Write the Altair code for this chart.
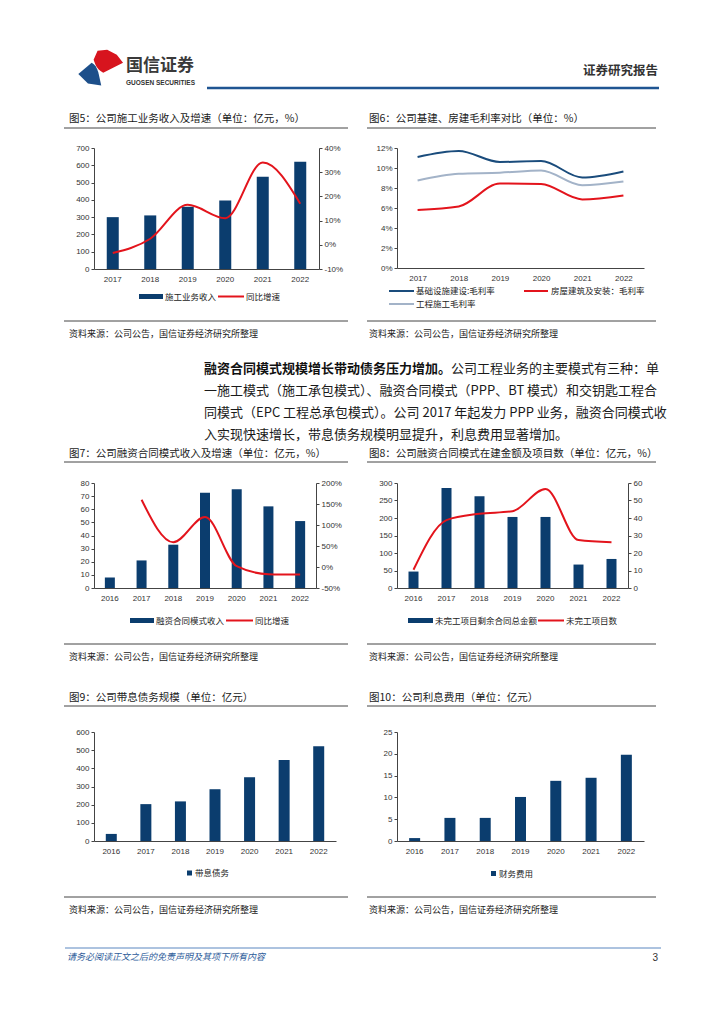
import altair as alt
import pandas as pd

CJK = "Noto Sans CJK SC"
NUM = "Liberation Sans"
NAVY = "#0B3D6E"
RED = "#E3141C"
BLUE6 = "#1A4C7C"
GRAY6 = "#A3B3C8"

# ---------------- data ----------------
years6y = ["2017", "2018", "2019", "2020", "2021", "2022"]
years7y = ["2016", "2017", "2018", "2019", "2020", "2021", "2022"]

# Fig 5
rev5 = [300, 310, 360, 397, 533, 620]
yoy5 = [-3.4, 2.5, 16.5, 11.0, 34.0, 17.0]
# Fig 6
infra6 = [11.1, 11.7, 10.6, 10.7, 9.05, 9.66]
house6 = [5.8, 6.15, 8.45, 8.4, 6.86, 7.26]
eng6 = [8.75, 9.43, 9.53, 9.76, 8.28, 8.65]
names6 = ["基础设施建设:毛利率", "房屋建筑及安装：毛利率", "工程施工毛利率"]
# Fig 7
rev7 = [8, 21, 33, 72.5, 75.2, 62.2, 51]
yoy7 = [None, 160, 59, 119, 2, -17, -18]
# Fig 8
amt8 = [47, 286, 262, 203, 203, 67, 83]
cnt8 = [10.4, 38.8, 42.4, 43.9, 56.6, 27.4, 26.1]
# Fig 9
debt9 = [39, 203, 218, 285, 351, 446, 521]
# Fig 10
fee10 = [0.67, 5.3, 5.3, 10.1, 13.8, 14.5, 19.8]

# ---------------- layout (page px) ----------------
O5, W5, H5 = (93, 147), 225, 121
O6, W6, H6 = (396, 147), 247, 120
O7, W7, H7 = (93, 482), 222, 105
O8, W8, H8 = (396, 482), 231, 105
O9, W9, H9 = (93, 731), 242, 109
O10, W10, H10 = (396, 731), 247, 109

ONE = pd.DataFrame({"k": [0]})
NOVIEW = alt.ViewBackground(stroke="transparent", strokeWidth=0)


def txt(s, px, py, org, size=9.0, weight="normal", align="left", color="#222",
        font=CJK, style=""):
    kw = dict(text=s, align=align, baseline="middle", fontSize=size, font=font,
              fontWeight=weight, color=color)
    if style:
        kw["fontStyle"] = style
    return alt.Chart(ONE).mark_text(**kw).encode(
        x=alt.value(px - org[0]), y=alt.value(py - org[1]))


def hrule(x1, x2, y, org, color="#444", w=1.0):
    return alt.Chart(ONE).mark_rule(color=color, strokeWidth=w).encode(
        x=alt.value(x1 - org[0]), x2=alt.value(x2 - org[0]), y=alt.value(y - org[1]))


def box(x1, x2, y1, y2, org, color):
    return alt.Chart(ONE).mark_rect(color=color).encode(
        x=alt.value(x1 - org[0]), x2=alt.value(x2 - org[0]),
        y=alt.value(y1 - org[1]), y2=alt.value(y2 - org[1]))


def logo(path, cx, cy, org, color, size):
    return alt.Chart(ONE).mark_point(shape=path, filled=True, size=size, color=color,
                                     opacity=1, strokeWidth=0).encode(
        x=alt.value(cx - org[0]), y=alt.value(cy - org[1]))


def frame(title, tx, ty, ux1, ux2, uy, sy, org):
    return [
        txt(title, tx, ty, org, size=10.5, color="#1a1a1a"),
        hrule(ux1, ux2, uy, org, color="#444", w=1),
        hrule(ux1, ux2, sy - 13, org, color="#444", w=1),
        txt("资料来源：公司公告，国信证券经济研究所整理", tx, sy, org, size=9, color="#222"),
    ]


xaxis = alt.Axis(labelAngle=0, ticks=False, labelPadding=6, title=None,
                 labelFont=NUM, labelFontSize=8, labelColor="#333", domainColor="#444")
xscale = alt.Scale(paddingInner=0, paddingOuter=0)


def yaxis(vals, orient="left", pct=False):
    kw = dict(values=vals, orient=orient, title=None, grid=False, tickSize=3,
              labelPadding=2, labelFont=NUM, labelFontSize=8, labelColor="#333",
              domainColor="#444", tickColor="#444")
    if pct:
        kw["labelExpr"] = "datum.value + '%'"
    return alt.Axis(**kw)


def dual(years, bars, line, dl, vl, dr, vr, rpct, barsize, w, h, decor):
    df = pd.DataFrame({"year": years, "bar": bars, "line": line})
    base = alt.Chart(df).encode(x=alt.X("year:N", scale=xscale, axis=xaxis, sort=years))
    b = base.mark_bar(size=barsize, color=NAVY).encode(
        y=alt.Y("bar:Q", scale=alt.Scale(domain=dl, nice=False), axis=yaxis(vl)))
    l = base.mark_line(color=RED, strokeWidth=2, interpolate="monotone").encode(
        y=alt.Y("line:Q", scale=alt.Scale(domain=dr, nice=False),
                axis=yaxis(vr, "right", rpct)))
    return alt.layer(b, l, *decor).resolve_scale(y="independent").properties(
        width=w, height=h, view=NOVIEW)


def single(years, vals, dom, vl, barsize, w, h, decor):
    df = pd.DataFrame({"year": years, "v": vals})
    b = alt.Chart(df).mark_bar(size=barsize, color=NAVY).encode(
        x=alt.X("year:N", scale=xscale, axis=xaxis, sort=years),
        y=alt.Y("v:Q", scale=alt.Scale(domain=dom, nice=False), axis=yaxis(vl)))
    return alt.layer(b, *decor).properties(width=w, height=h, view=NOVIEW)


def spacer(h):
    return alt.Chart(ONE).mark_rule(color="white", opacity=0).encode(
        x=alt.value(0), y=alt.value(0)).properties(width=10, height=h, view=NOVIEW)


# ---------------- page decorations (in chart 5) ----------------
red_path = ("M0.02,-0.68 L0.36,-0.72 L0.7,-0.54 L0.92,-0.26 L0.22,0.1 "
            "C0.08,0.02 0.0,-0.08 -0.04,-0.16 C-0.08,-0.24 -0.1,-0.3 -0.12,-0.36 Z")
blue_path = ("M-0.66,0.14 L-0.19,-0.26 C-0.08,-0.2 0.0,-0.1 0.05,0.1 "
             "L0.15,0.55 L-0.32,0.48 Z")

header = [
    hrule(8, 9, 8, O5, color="#ffffff", w=1),  # page anchor
    logo(blue_path, 96, 69, O5, "#1D4F8A", 3200),
    logo(red_path, 96, 69, O5, "#D7141E", 3200),
    txt("国信证券", 125, 65, O5, size=17, weight="bold", color="#3a3a3a"),
    txt("GUOSEN SECURITIES", 125, 82, O5, size=6.5, weight="bold", color="#333", font=NUM),
    hrule(206, 658, 87, O5, color="#1F5592", w=2.5),
    txt("证券研究报告", 657, 70, O5, size=12.5, weight="bold", align="right", color="#333"),
]

para_x = 203
para = [
    txt("融资合同模式规模增长带动债务压力增加。", para_x, 368, O5, size=13, weight="bold", color="#111"),
    txt("公司工程业务的主要模式有三种：单", para_x + 19 * 13, 368, O5, size=13, color="#1a1a1a"),
    txt("一施工模式（施工承包模式）、融资合同模式（PPP、BT 模式）和交钥匙工程合", para_x, 390, O5, size=13, color="#1a1a1a"),
    txt("同模式（EPC 工程总承包模式）。公司 2017 年起发力 PPP 业务，融资合同模式收", para_x, 412, O5, size=13, color="#1a1a1a"),
    txt("入实现快速增长，带息债务规模明显提升，利息费用显著增加。", para_x, 434, O5, size=13, color="#1a1a1a"),
]

leg5 = [
    box(138, 162, 293, 298, O5, NAVY),
    txt("施工业务收入", 164, 295.5, O5, size=8.5),
    hrule(217, 243, 295.5, O5, color=RED, w=2),
    txt("同比增速", 245, 295.5, O5, size=8.5),
]

c5 = dual(years6y, rev5, yoy5, [0, 700], list(range(0, 701, 100)),
          [-10, 40], list(range(-10, 41, 10)), True, 12, W5, H5,
          header + para + frame("图5：公司施工业务收入及增速（单位：亿元，%）",
                                68, 118, 63, 347, 127, 333, O5) + leg5)

# ---------------- chart 6 ----------------
df6 = pd.DataFrame({
    "year": years6y * 3,
    "v": infra6 + house6 + eng6,
    "s": [names6[0]] * 6 + [names6[1]] * 6 + [names6[2]] * 6,
})
lines6 = alt.Chart(df6).mark_line(strokeWidth=2, interpolate="monotone").encode(
    x=alt.X("year:N", scale=xscale, axis=xaxis, sort=years6y),
    y=alt.Y("v:Q", scale=alt.Scale(domain=[0, 12], nice=False),
            axis=yaxis(list(range(0, 13, 2)), pct=True)),
    color=alt.Color("s:N", scale=alt.Scale(domain=names6, range=[BLUE6, RED, GRAY6]), legend=None),
    order=alt.Order("year:N"),
)
leg6 = [
    hrule(388, 413, 290, O6, color=BLUE6, w=2),
    txt(names6[0], 415, 290, O6, size=8.5),
    hrule(523, 547, 290, O6, color=RED, w=2),
    txt(names6[1], 550, 290, O6, size=8.5),
    hrule(388, 413, 303, O6, color=GRAY6, w=2),
    txt(names6[2], 415, 303, O6, size=8.5),
]
c6 = alt.layer(lines6, *(frame("图6：公司基建、房建毛利率对比（单位：%）",
                               368, 118, 366, 655, 127, 333, O6) + leg6)).properties(
    width=W6, height=H6, view=NOVIEW)

# ---------------- chart 7 ----------------
leg7 = [
    box(129, 153, 617, 622, O7, NAVY),
    txt("融资合同模式收入", 155, 619.5, O7, size=8.5),
    hrule(225, 252, 619.5, O7, color=RED, w=2),
    txt("同比增速", 254, 619.5, O7, size=8.5),
]
c7 = dual(years7y, rev7, yoy7, [0, 80], list(range(0, 81, 10)),
          [-50, 200], list(range(-50, 201, 50)), True, 10, W7, H7,
          frame("图7：公司融资合同模式收入及增速（单位：亿元，%）",
                68, 453, 63, 347, 461, 656, O7) + leg7)

# ---------------- chart 8 ----------------
leg8 = [
    box(407, 432, 617, 622, O8, NAVY),
    txt("未完工项目剩余合同总金额", 434, 619.5, O8, size=8.5),
    hrule(537, 563, 619.5, O8, color=RED, w=2),
    txt("未完工项目数", 565, 619.5, O8, size=8.5),
]
c8 = dual(years7y, amt8, cnt8, [0, 300], list(range(0, 301, 50)),
          [0, 60], list(range(0, 61, 10)), False, 10, W8, H8,
          frame("图8：公司融资合同模式在建金额及项目数（单位：亿元，%）",
                368, 453, 366, 655, 461, 656, O8) + leg8)

# ---------------- chart 9 ----------------
footer = [
    hrule(64, 660, 947, O9, color="#5B87C0", w=1),
    txt("请务必阅读正文之后的免责声明及其项下所有内容", 66, 956, O9, size=9,
        color="#2E5C9A", style="italic"),
    txt("3", 657, 957, O9, size=10, align="right", color="#333", font=NUM),
]
leg9 = [
    box(186, 191, 869.5, 874.5, O9, NAVY),
    txt("带息债务", 194, 872, O9, size=8.5),
]
c9 = single(years7y, debt9, [0, 600], list(range(0, 601, 100)), 11, W9, H9,
            frame("图9：公司带息债务规模（单位：亿元）", 68, 697, 63, 347, 705, 909, O9)
            + leg9 + footer)

# ---------------- chart 10 ----------------
leg10 = [
    box(490, 495, 870, 875, O10, NAVY),
    txt("财务费用", 498, 872.5, O10, size=8.5),
]
c10 = single(years7y, fee10, [0, 25], list(range(0, 26, 5)), 11, W10, H10,
             frame("图10：公司利息费用（单位：亿元）", 368, 697, 366, 655, 705, 909, O10)
             + leg10)

ROWSP = 10
chart = alt.concat(
    c5, c6,
    spacer(482 - (147 + H5) - 2 * ROWSP), spacer(10),
    c7, c8,
    spacer(731 - (482 + H7) - 2 * ROWSP), spacer(10),
    c9, c10,
    columns=2, bounds="flush", align="each",
    spacing={"row": ROWSP, "column": 396 - 93 - max(W5, W7, W9)},
).properties(
    padding={"left": 0, "top": 0, "right": 0, "bottom": 0}
).configure_view(stroke="transparent", strokeWidth=0).configure(background="white")

chart.save("out.html", embed_options={"renderer": "svg", "actions": False})
